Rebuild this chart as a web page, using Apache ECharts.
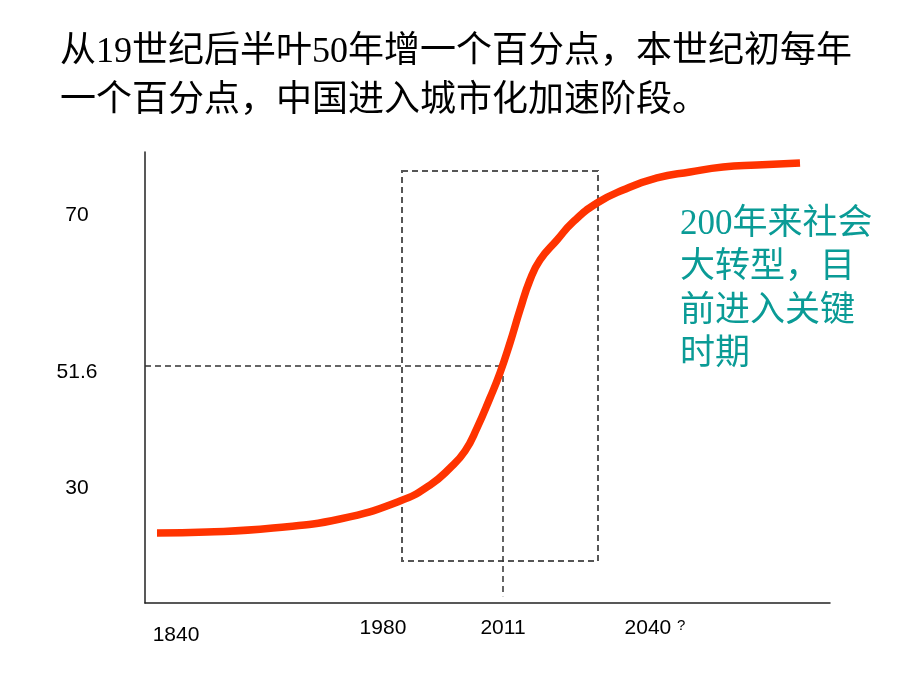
<!DOCTYPE html>
<html>
<head>
<meta charset="utf-8">
<script src="https://cdn.jsdelivr.net/npm/echarts@6/dist/echarts.min.js"></script>
<style>
html,body{margin:0;padding:0;background:#fff;}
#chart{width:920px;height:690px;}
</style>
</head>
<body>
<div id="chart"></div>
<script>
// Schematic urbanization S-curve (schematic units 0..100 on both axes)
var curveX = [1.75, 9.05, 18.69, 28.47, 37.23, 41.61, 44.53, 46.72, 48.47, 50.36, 51.82, 53.28, 54.74, 56.20, 57.66, 60.15, 62.48, 65.99, 69.78, 74.74, 79.56, 84.38, 89.34, 95.62];
var curveY = [15.52, 15.74, 16.63, 18.63, 22.62, 26.16, 29.93, 33.70, 38.80, 45.45, 51.00, 57.65, 64.97, 71.62, 76.05, 80.49, 84.48, 88.69, 91.57, 94.24, 95.57, 96.67, 97.12, 97.56];

var xTickPos = [4.53, 34.74, 52.26, 74.45];
var xTickLabels = ['1840', '1980', '2011', '2040'];
var yTickPos = [25.5, 52.55, 86.0];
var yTickLabels = ['30', '51.6', '70'];

var boxX = [37.52, 66.13];   // dashed box (1980 .. ~2040)
var boxY = [9.31, 95.79];
var markX = 52.26;           // 2011
var markY = 52.55;           // 51.6

var titleText = '从19世纪后半叶50年增一个百分点，本世纪初每年\n一个百分点，中国进入城市化加速阶段。';
var noteText = '200年来社会\n大转型，目\n前进入关键\n时期';

var chart = echarts.init(document.getElementById('chart'), null, {renderer: 'canvas'});

var seriesData = curveX.map(function (x, i) { return [x, curveY[i]]; });

function nearestIndex(arr, v) {
  var best = 0, d = Infinity;
  for (var i = 0; i < arr.length; i++) {
    var dd = Math.abs(arr[i] - v);
    if (dd < d) { d = dd; best = i; }
  }
  return best;
}

var LBL_FONT = "'Liberation Sans', Arial, sans-serif";

var option = {
  backgroundColor: '#ffffff',
  animation: false,
  title: [
    {
      text: titleText,
      left: 55,
      top: 23,
      textStyle: {
        fontFamily: "'Liberation Serif', 'Noto Sans CJK SC', serif",
        fontSize: 36,
        fontWeight: 'normal',
        lineHeight: 49,
        color: '#000000'
      }
    },
    {
      text: noteText,
      left: 675,
      top: 198,
      textStyle: {
        fontFamily: "'Liberation Serif', 'Noto Sans CJK SC', serif",
        fontSize: 35,
        fontWeight: 'normal',
        lineHeight: 43.5,
        color: '#0a9b96'
      }
    }
  ],
  grid: {left: 145, right: 90, top: 152, bottom: 87, containLabel: false},
  xAxis: {
    type: 'value',
    min: 0,
    max: 100,
    splitLine: {show: false},
    axisTick: {show: false},
    axisLine: {show: true, lineStyle: {color: '#222', width: 1.5}},
    axisLabel: {
      show: true,
      customValues: xTickPos,
      margin: 15,
      color: '#000',
      fontFamily: LBL_FONT,
      fontSize: 21,
      formatter: function (v) {
        var i = nearestIndex(xTickPos, v);
        if (i === 0) return '{low|' + xTickLabels[i] + '}';
        if (i === 3) return '{n|' + xTickLabels[i] + '} {q|?}';
        return '{n|' + xTickLabels[i] + '}';
      },
      rich: {
        n: {fontSize: 21, color: '#000', fontFamily: LBL_FONT},
        low: {fontSize: 21, color: '#000', fontFamily: LBL_FONT, padding: [7, 0, 0, 0]},
        q: {fontSize: 15, color: '#000', fontFamily: LBL_FONT, padding: [0, 0, 5, 0]}
      }
    }
  },
  yAxis: {
    type: 'value',
    min: 0,
    max: 100,
    splitLine: {show: false},
    axisTick: {show: false},
    axisLine: {show: true, lineStyle: {color: '#222', width: 1.5}},
    axisLabel: {
      show: true,
      customValues: yTickPos,
      margin: 68,
      align: 'center',
      color: '#000',
      fontFamily: LBL_FONT,
      fontSize: 21,
      formatter: function (v) {
        var i = nearestIndex(yTickPos, v);
        if (i === 1) return '{d|' + yTickLabels[i] + '}';
        return '{n|' + yTickLabels[i] + '}';
      },
      rich: {
        n: {fontSize: 21, color: '#000', fontFamily: LBL_FONT},
        d: {fontSize: 21, color: '#000', fontFamily: LBL_FONT, padding: [12, 0, 0, 0]}
      }
    }
  },
  series: [
    {
      type: 'line',
      data: seriesData,
      smooth: 0.5,
      showSymbol: false,
      symbol: 'none',
      clip: false,
      z: 5,
      lineStyle: {color: '#ff3300', width: 7.5, cap: 'butt', join: 'round'},
      markArea: {
        silent: true,
        z: 1,
        itemStyle: {
          color: 'rgba(0,0,0,0)',
          borderColor: '#555555',
          borderWidth: 2,
          borderType: [6, 4]
        },
        label: {show: false},
        data: [[{coord: [boxX[0], boxY[1]]}, {coord: [boxX[1], boxY[0]]}]]
      },
      markLine: {
        silent: true,
        symbol: ['none', 'none'],
        label: {show: false},
        z: 1,
        lineStyle: {color: '#333333', width: 1.5, type: [6, 4]},
        data: [
          [{coord: [0, markY]}, {coord: [markX, markY]}],
          [{coord: [markX, markY]}, {coord: [markX, 1.5]}]
        ]
      }
    }
  ]
};

chart.setOption(option);
</script>
</body>
</html>
